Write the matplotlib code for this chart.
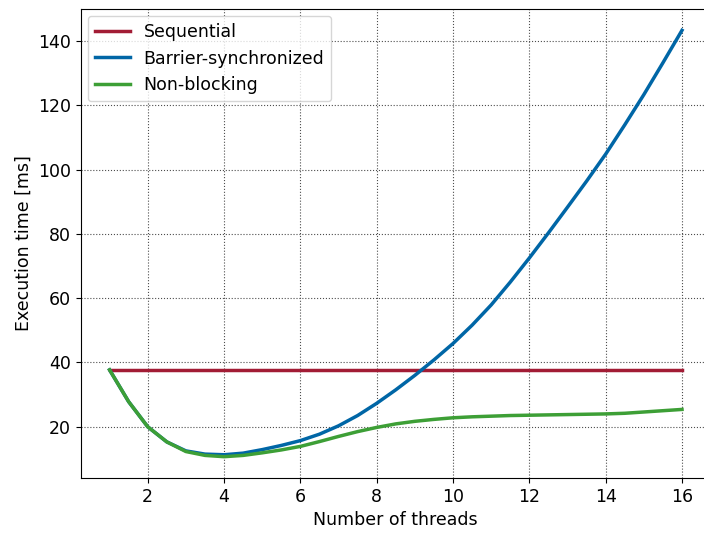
import matplotlib
matplotlib.use("Agg")
import matplotlib.pyplot as plt

threads = [1, 1.5, 2, 2.5, 3, 3.5, 4, 4.5, 5, 5.5, 6, 6.5, 7, 7.5, 8, 8.5,
           9, 9.5, 10, 10.5, 11, 11.5, 12, 12.5, 13, 13.5, 14, 14.5, 15, 15.5, 16]
barrier = [37.7, 27.8, 20.0, 15.3, 12.5, 11.5, 11.3, 11.8, 12.9, 14.2, 15.7, 17.7,
           20.3, 23.5, 27.3, 31.5, 36.0, 40.8, 45.9, 51.6, 57.9, 65.0, 72.5, 80.3,
           88.3, 96.4, 104.8, 113.9, 123.3, 133.2, 143.3]
nonblocking = [37.7, 27.8, 20.0, 15.3, 12.3, 11.1, 10.7, 11.1, 11.9, 12.8, 13.9, 15.4,
               17.0, 18.5, 19.8, 20.9, 21.7, 22.3, 22.8, 23.1, 23.3, 23.5, 23.6, 23.7,
               23.8, 23.9, 24.0, 24.2, 24.6, 25.0, 25.4]
seq_threads = [1, 2, 3, 4, 5, 6, 7, 8, 9, 10, 11, 12, 13, 14, 15, 16]
sequential = [37.7, 37.7, 37.7, 37.7, 37.7, 37.7, 37.7, 37.7,
              37.7, 37.7, 37.7, 37.7, 37.7, 37.7, 37.7, 37.7]

labels = ["Sequential", "Barrier-synchronized", "Non-blocking"]
colors = ["#a21c35", "#0066a6", "#3d9f36"]

plt.rcParams['font.family'] = ['DejaVu Sans']
fig = plt.figure(figsize=(7.04, 5.36), dpi=100)
ax = fig.add_axes([0.115, 0.1082, 0.8944, 0.875])

ax.plot(seq_threads, sequential, color=colors[0], lw=2.5, label=labels[0])
ax.plot(threads, barrier, color=colors[1], lw=2.5, label=labels[1])
ax.plot(threads, nonblocking, color=colors[2], lw=2.5, label=labels[2])

ax.set_xticks([2, 4, 6, 8, 10, 12, 14, 16])
ax.set_yticks([20, 40, 60, 80, 100, 120, 140])
ax.tick_params(labelsize=12.5)
ax.set_xlabel("Number of threads", fontsize=12.5)
ax.set_ylabel("Execution time [ms]", fontsize=12.5)
ax.grid(True, linestyle=':', color='0.3', linewidth=0.8)
ax.legend(loc='upper left', fontsize=12.5, borderaxespad=0.4)

fig.savefig("out.png", dpi=100)
